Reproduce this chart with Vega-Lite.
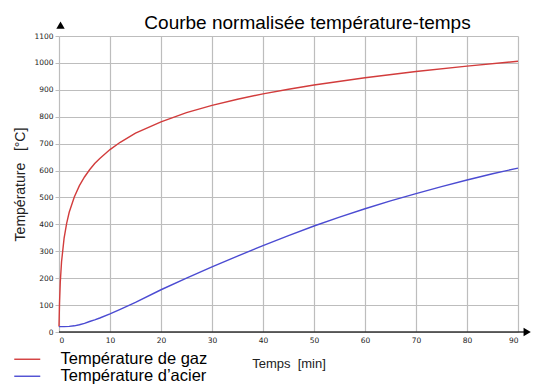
{
  "$schema": "https://vega.github.io/schema/vega-lite/v6.json",
  "autosize": {"type": "none"},
  "width": 459,
  "height": 296,
  "padding": {"left": 59, "top": 36, "right": 32, "bottom": 56},
  "background": "white",
  "title": {
    "text": "Courbe normalisée température-temps",
    "font": "Liberation Sans",
    "fontSize": 19,
    "fontWeight": "normal",
    "color": "#000000",
    "anchor": "middle",
    "dx": 19,
    "offset": -11
  },
  "config": {
    "view": {"stroke": null},
    "axis": {"labelFont": "DejaVu Sans", "labelFontSize": 7.5, "labelColor": "#222222", "labelOverlap": false, "gridColor": "#bdbdbd", "gridWidth": 1.2, "titleFont": "Liberation Sans", "titleFontWeight": "normal", "titleColor": "#222222"}
  },
  "datasets": {
    "curves": [
      {"t": 0, "temp": 20, "serie": "Température de gaz"},
      {"t": 0.1, "temp": 108, "serie": "Température de gaz"},
      {"t": 0.25, "temp": 185, "serie": "Température de gaz"},
      {"t": 0.5, "temp": 261, "serie": "Température de gaz"},
      {"t": 1, "temp": 349, "serie": "Température de gaz"},
      {"t": 1.5, "temp": 404, "serie": "Température de gaz"},
      {"t": 2, "temp": 445, "serie": "Température de gaz"},
      {"t": 3, "temp": 502, "serie": "Température de gaz"},
      {"t": 4, "temp": 544, "serie": "Température de gaz"},
      {"t": 5, "temp": 576, "serie": "Température de gaz"},
      {"t": 6, "temp": 603, "serie": "Température de gaz"},
      {"t": 7, "temp": 626, "serie": "Température de gaz"},
      {"t": 8, "temp": 645, "serie": "Température de gaz"},
      {"t": 10, "temp": 678, "serie": "Température de gaz"},
      {"t": 12, "temp": 705, "serie": "Température de gaz"},
      {"t": 15, "temp": 739, "serie": "Température de gaz"},
      {"t": 20, "temp": 781, "serie": "Température de gaz"},
      {"t": 25, "temp": 815, "serie": "Température de gaz"},
      {"t": 30, "temp": 842, "serie": "Température de gaz"},
      {"t": 35, "temp": 865, "serie": "Température de gaz"},
      {"t": 40, "temp": 885, "serie": "Température de gaz"},
      {"t": 45, "temp": 902, "serie": "Température de gaz"},
      {"t": 50, "temp": 918, "serie": "Température de gaz"},
      {"t": 60, "temp": 945, "serie": "Température de gaz"},
      {"t": 70, "temp": 968, "serie": "Température de gaz"},
      {"t": 80, "temp": 988, "serie": "Température de gaz"},
      {"t": 90, "temp": 1006, "serie": "Température de gaz"},
      {"t": 0, "temp": 20, "serie": "Température d’acier"},
      {"t": 1, "temp": 20, "serie": "Température d’acier"},
      {"t": 2, "temp": 21, "serie": "Température d’acier"},
      {"t": 3, "temp": 23, "serie": "Température d’acier"},
      {"t": 4, "temp": 27, "serie": "Température d’acier"},
      {"t": 5, "temp": 32, "serie": "Température d’acier"},
      {"t": 6, "temp": 39, "serie": "Température d’acier"},
      {"t": 7, "temp": 45, "serie": "Température d’acier"},
      {"t": 8, "temp": 52, "serie": "Température d’acier"},
      {"t": 10, "temp": 67, "serie": "Température d’acier"},
      {"t": 12, "temp": 84, "serie": "Température d’acier"},
      {"t": 15, "temp": 110, "serie": "Température d’acier"},
      {"t": 20, "temp": 157, "serie": "Température d’acier"},
      {"t": 25, "temp": 200, "serie": "Température d’acier"},
      {"t": 30, "temp": 242, "serie": "Température d’acier"},
      {"t": 35, "temp": 282, "serie": "Température d’acier"},
      {"t": 40, "temp": 321, "serie": "Température d’acier"},
      {"t": 45, "temp": 358, "serie": "Température d’acier"},
      {"t": 50, "temp": 394, "serie": "Température d’acier"},
      {"t": 55, "temp": 427, "serie": "Température d’acier"},
      {"t": 60, "temp": 458, "serie": "Température d’acier"},
      {"t": 65, "temp": 487, "serie": "Température d’acier"},
      {"t": 70, "temp": 514, "serie": "Température d’acier"},
      {"t": 75, "temp": 540, "serie": "Température d’acier"},
      {"t": 80, "temp": 565, "serie": "Température d’acier"},
      {"t": 85, "temp": 588, "serie": "Température d’acier"},
      {"t": 90, "temp": 609, "serie": "Température d’acier"}
    ],
    "arrows": [
      {"t": 0.3, "temp": 1140, "shape": "triangle-up"},
      {"t": 91.8, "temp": 0, "shape": "triangle-right"}
    ],
    "baseline": [
      {"t": 0, "t2": 91.5, "temp": 0}
    ]
  },
  "encoding": {
    "x": {
      "field": "t", "type": "quantitative",
      "scale": {"domain": [0, 90], "nice": false},
      "axis": {"values": [0,10,20,30,40,50,60,70,80,90], "labelOverlap": false, "domain": false, "ticks": false, "labelPadding": 4, "title": "Temps\u00a0\u00a0[min]", "titleFontSize": 13, "titlePadding": 14}
    },
    "y": {
      "field": "temp", "type": "quantitative",
      "scale": {"domain": [0, 1100], "nice": false},
      "axis": {"values": [0,100,200,300,400,500,600,700,800,900,1000,1100], "labelOverlap": false, "labelFlush": false, "format": "d", "domain": false, "tickColor": "#bdbdbd", "tickSize": 4, "labelPadding": 2, "title": "Température\u00a0\u00a0\u00a0[°C]", "titleFontSize": 14, "titlePadding": 6}
    }
  },
  "layer": [
    {
      "data": {"name": "curves"},
      "mark": {"type": "line", "strokeWidth": 1.4, "clip": false},
      "encoding": {
        "color": {
          "field": "serie", "type": "nominal",
          "scale": {"domain": ["Température de gaz", "Température d’acier"], "range": ["#d23c3c", "#4b4bd2"]},
          "legend": {
            "orient": "none", "legendX": -40, "legendY": 315, "title": null,
            "symbolType": "M-2.6,0H2.6", "symbolSize": 100, "symbolStrokeWidth": 1.4,
            "labelFont": "Liberation Sans", "labelFontSize": 16.5, "labelColor": "#000000",
            "labelOffset": 25, "rowPadding": 0
          }
        },
        "detail": {"field": "serie"}
      }
    },
    {
      "data": {"name": "baseline"},
      "mark": {"type": "rule", "color": "#333333", "strokeWidth": 1.6, "clip": false},
      "encoding": {
        "x2": {"field": "t2"}
      }
    },
    {
      "data": {"name": "arrows"},
      "mark": {"type": "point", "filled": true, "color": "#000000", "size": 70, "opacity": 1, "clip": false},
      "encoding": {
        "shape": {"field": "shape", "type": "nominal", "scale": null, "legend": null}
      }
    }
  ]
}
